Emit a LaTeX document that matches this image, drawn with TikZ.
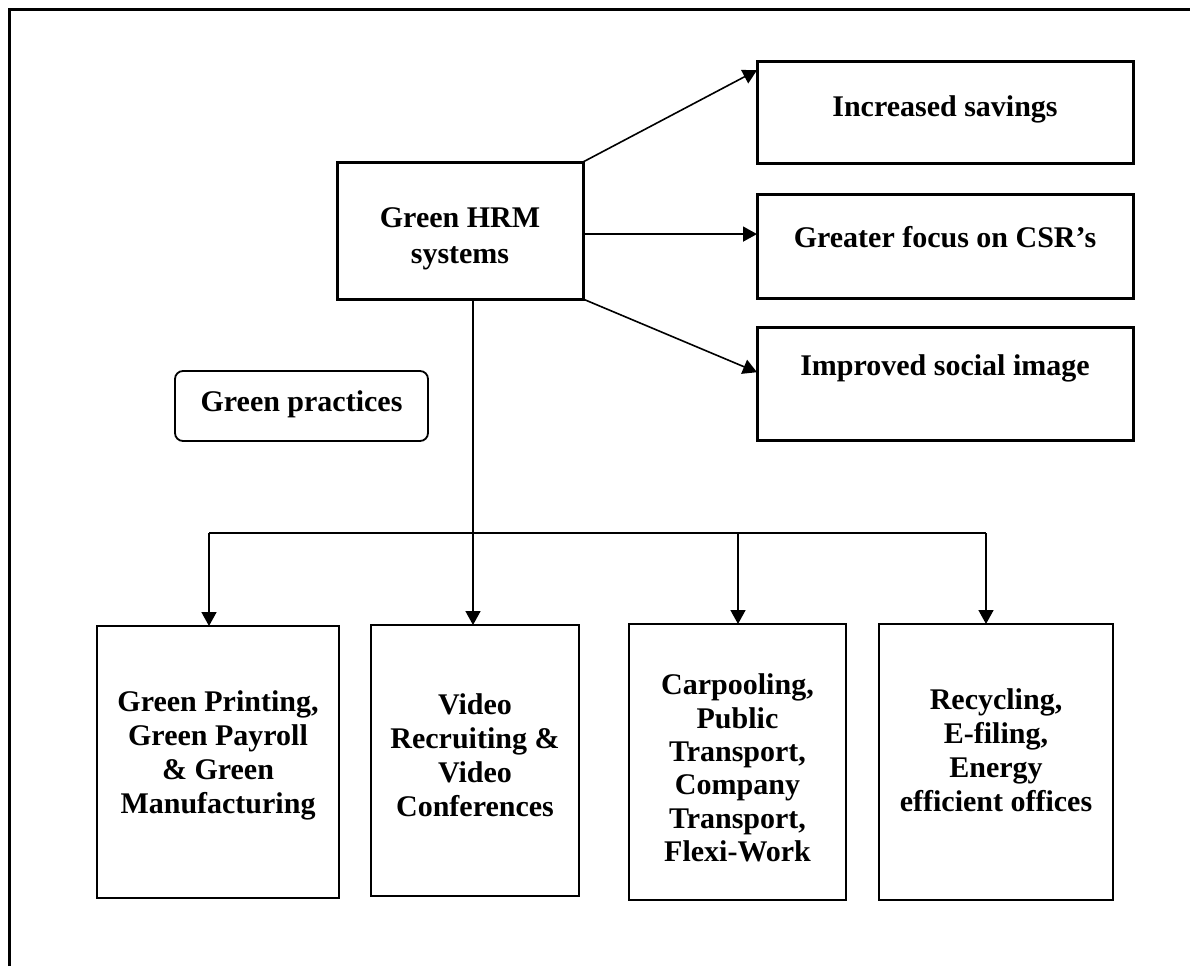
\documentclass[tikz,border=0pt]{standalone}
\usepackage{fontspec}
\setmainfont{Liberation Serif}
\usetikzlibrary{arrows.meta,calc}
\begin{document}
\begin{tikzpicture}[x=0.5pt,y=-0.5pt,
  thickbox/.style={draw,line width=1.5pt,inner sep=0pt,outer sep=0pt},
  thinbox/.style={draw,line width=1pt,inner sep=0pt,outer sep=0pt},
  roundbox/.style={draw,line width=0.9pt,rounded corners=4pt,inner sep=0pt,outer sep=0pt},
  lbl/.style={inner sep=0pt,align=center,font=\bfseries\fontsize{15}{17}\selectfont},
  conn/.style={line width=0.8pt},
  arr/.style={line width=0.8pt,-{Triangle[length=7pt,width=7.5pt]}},
  frameline/.style={line width=1.5pt}]
\useasboundingbox (0,0) rectangle (1190,966);
\fill[white] (0,0) rectangle (1190,966);
% frame
\coordinate (fbl) at (9,966);
\coordinate (ftl) at (9,9);
\coordinate (ftr) at (1190,9);
\draw[frameline] (fbl) -- (ftl) -- (ftr);
% top part
\node[thickbox,minimum width=123pt,minimum height=68.5pt] (hrm) at (460,230.5) {};
\node[lbl,font=\bfseries\fontsize{15}{18}\selectfont] (hrmt) at (460,239) {Green HRM\\systems};
\node[thickbox,minimum width=188pt,minimum height=51pt] (sav) at (945,112) {};
\node[lbl] (savt) at (945,109) {Increased savings};
\node[thickbox,minimum width=188pt,minimum height=52pt] (csr) at (945,246) {};
\node[lbl] (csrt) at (945,237) {Greater focus on CSR’s};
\node[thickbox,minimum width=188pt,minimum height=56.5pt] (img) at (945,383.5) {};
\node[lbl] (imgt) at (945,368) {Improved social image};
\node[roundbox,minimum width=126.5pt,minimum height=35pt] (gp) at (301.5,406) {};
\node[lbl] (gpt) at (301.5,404) {Green practices};
% arrows to right
\coordinate (e1) at ($(sav.north west)!0.09!(sav.south west)$);
\coordinate (e3) at ($(img.north west)!0.4!(img.south west)$);
\coordinate (m) at ($(hrm.north east)!0.526!(hrm.south east)$);
\draw[arr] (hrm.north east) -- (e1);
\draw[arr] (m) -- (m -| csr.west);
\draw[arr] (hrm.south east) -- (e3);
% bottom boxes
\node[thinbox,minimum width=121pt,minimum height=136pt] (b1) at (218,762) {};
\node[lbl] (b1t) at (218,755) {Green Printing,\\Green Payroll\\\& Green\\Manufacturing};
\node[thinbox,minimum width=104pt,minimum height=135.5pt] (b2) at (475,760.5) {};
\node[lbl] (b2t) at (475,755) {Video\\Recruiting \&\\Video\\Conferences};
\node[thinbox,minimum width=108.5pt,minimum height=138pt] (b3) at (737.5,762) {};
\node[lbl,font=\bfseries\fontsize{15}{16.7}\selectfont] (b3t) at (737.5,768) {Carpooling,\\Public\\Transport,\\Company\\Transport,\\Flexi-Work};
\node[thinbox,minimum width=117pt,minimum height=138pt] (b4) at (996,762) {};
\node[lbl] (b4t) at (996,750) {Recycling,\\E-filing,\\Energy\\efficient offices};
% tree connectors
\coordinate (j1) at (209,533);
\coordinate (j2) at (473,533);
\coordinate (j3) at (738,533);
\coordinate (j4) at (986,533);
\draw[conn] (hrm.south -| j2) -- (j2);
\draw[conn] (j1) -- (j4);
\draw[arr] (j1) -- (j1 |- b1.north);
\draw[arr] (j2) -- (j2 |- b2.north);
\draw[arr] (j3) -- (j3 |- b3.north);
\draw[arr] (j4) -- (j4 |- b4.north);
\end{tikzpicture}
\end{document}
